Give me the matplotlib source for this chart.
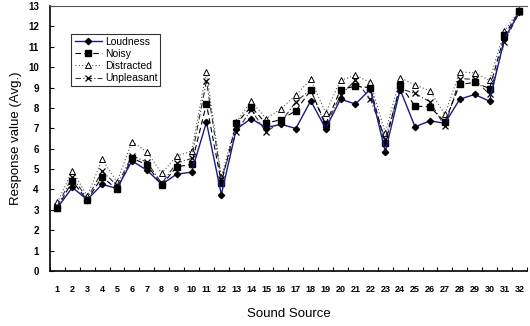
import numpy as np
import matplotlib.pyplot as plt
from matplotlib.ticker import FixedLocator

plt.rcParams['font.family'] = ['Liberation Sans', 'DejaVu Sans']

# data
sources = np.arange(1, 33)
loudness = [3.1, 4.1, 3.5, 4.25, 4.05, 5.4, 4.95, 4.25, 4.75, 4.85, 7.3, 3.75,
            6.95, 7.48, 7.03, 7.2, 6.99, 8.35, 6.99, 8.43, 8.19, 8.92, 5.85, 8.9,
            7.07, 7.37, 7.24, 8.43, 8.66, 8.33, 11.4, 12.7]
noisy = [3.1, 4.41, 3.48, 4.62, 4.0, 5.55, 5.2, 4.22, 5.11, 5.23, 8.19, 4.33,
         7.24, 8.05, 7.24, 7.43, 7.86, 8.87, 7.2, 8.9, 9.07, 8.99, 6.26, 9.12,
         8.09, 8.05, 7.32, 9.15, 9.25, 8.95, 11.57, 12.75]
distracted = [3.37, 4.92, 3.68, 5.47, 4.38, 6.34, 5.85, 4.79, 5.64, 5.88, 9.77, 4.62,
              7.3, 8.33, 7.48, 7.96, 8.63, 9.4, 7.76, 9.36, 9.6, 9.25, 6.78, 9.49,
              9.12, 8.84, 7.68, 9.77, 9.72, 9.36, 11.78, 12.8]
unpleasant = [3.2, 4.62, 3.55, 4.9, 4.2, 5.65, 5.35, 4.3, 5.3, 5.52, 9.33, 4.5,
              6.83, 7.9, 6.83, 7.3, 8.3, 8.9, 7.1, 8.63, 9.36, 8.43, 6.5, 8.95,
              8.71, 8.3, 7.1, 9.44, 9.4, 8.66, 11.24, 12.7]

fig = plt.figure(figsize=(5.30, 3.26), dpi=100)
ax = fig.add_axes([0.0943, 0.1687, 0.8997, 0.8129])

ax.plot(sources, loudness, color='#1a1a8c', lw=1.0, marker='D', ms=3.2,
        mfc='black', mec='black', label='Loudness', zorder=5)
ax.plot(sources, noisy, color='black', lw=0.8, ls=(0, (5, 3)), marker='s', ms=5,
        mfc='black', mec='black', label='Noisy', zorder=4)
ax.plot(sources, distracted, color='#555555', lw=0.8, ls=(0, (1, 2)), marker='^', ms=5,
        mfc='white', mec='black', mew=0.7, label='Distracted', zorder=3)
ax.plot(sources, unpleasant, color='#333333', lw=0.8, ls=(0, (5, 2, 1, 2)), marker='x', ms=5,
        mec='black', mew=0.9, label='Unpleasant', zorder=3)

ax.set_xlim(0.5, 32.5)
ax.set_ylim(0, 13)
ax.set_yticks(range(0, 14))
ax.set_xticks(sources)
ax.xaxis.set_minor_locator(FixedLocator(np.arange(0.5, 33, 1)))
ax.tick_params(axis='x', which='major', length=0, pad=10, labelsize=6.5)
ax.tick_params(axis='x', which='minor', direction='in', length=3, width=0.8)
ax.tick_params(axis='y', direction='in', length=3, width=0.8, labelsize=7, pad=8)
for lbl in ax.get_xticklabels() + ax.get_yticklabels():
    lbl.set_fontweight('bold')

ax.spines['right'].set_visible(False)
ax.spines['top'].set_color('#555555')
ax.spines['top'].set_linewidth(0.8)
ax.spines['left'].set_linewidth(1.2)
ax.spines['bottom'].set_linewidth(1.2)

ax.set_xlabel('Sound Source', fontsize=9.5, labelpad=10)
ax.set_ylabel('Response value (Avg.)', fontsize=9.5, labelpad=4)

leg = ax.legend(loc='upper left', bbox_to_anchor=(0.045, 0.895), fontsize=7.5,
                frameon=True, fancybox=False, edgecolor='black', handlelength=2.6,
                borderpad=0.3, labelspacing=0.2, handletextpad=0.3, borderaxespad=0)
leg.get_frame().set_linewidth(0.8)

fig.savefig('out.png', dpi=100)
